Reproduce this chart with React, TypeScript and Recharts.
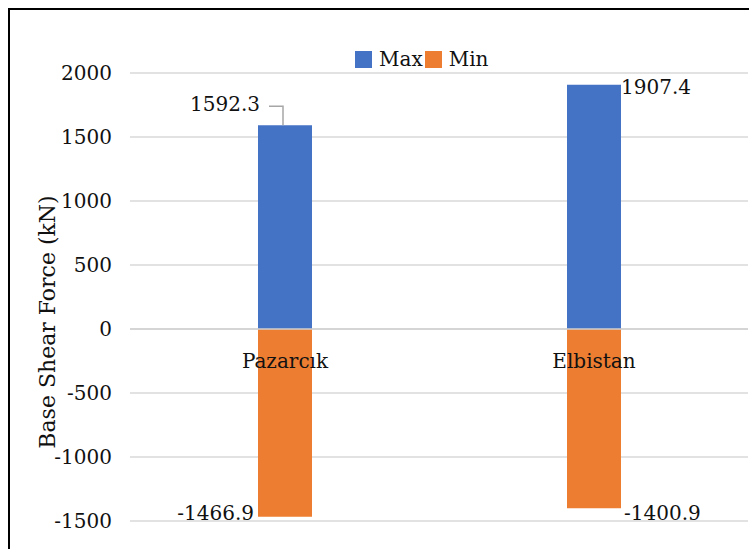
import { Bar, BarChart, CartesianGrid, LabelList, ReferenceLine, XAxis, YAxis } from 'recharts';

const sites = ['Pazarcık', 'Elbistan'];
const maxShear = [1592.3, 1907.4];
const minShear = [-1466.9, -1400.9];
const yTicks = [-1500, -1000, -500, 0, 500, 1000, 1500, 2000];

const seriesNames = ['Max', 'Min'];
const seriesColors = ['#4472C4', '#ED7D31'];

const FONT = '"DejaVu Serif", serif';
const TEXT = '#111';

const data = sites.map((name, i) => ({ name, max: maxShear[i], min: minShear[i] }));

function MaxLabel(props) {
    const { x, y, width, height, value, index } = props;
    const top = Math.min(y, y + height);
    if (index === 0) {
        return (
            <g>
                <polyline
                    points={`${x + 11},${top - 19} ${x + 25},${top - 19} ${x + 25},${top}`}
                    fill="none"
                    stroke="#a6a6a6"
                    strokeWidth={1.5}
                />
                <text x={x + 2} y={top - 21} textAnchor="end" dominantBaseline="central" fontSize={20} fontFamily={FONT} fill={TEXT}>
                    {value}
                </text>
            </g>
        );
    }
    return (
        <text x={x + width} y={top + 2} textAnchor="start" dominantBaseline="central" fontSize={20} fontFamily={FONT} fill={TEXT}>
            {value}
        </text>
    );
}

function MinLabel(props) {
    const { x, y, width, height, value, index } = props;
    const bottom = Math.max(y, y + height);
    if (index === 0) {
        return (
            <text x={x - 4} y={bottom - 4} textAnchor="end" dominantBaseline="central" fontSize={20} fontFamily={FONT} fill={TEXT}>
                {value}
            </text>
        );
    }
    return (
        <text x={x + width + 3} y={bottom + 5} textAnchor="start" dominantBaseline="central" fontSize={20} fontFamily={FONT} fill={TEXT}>
            {value}
        </text>
    );
}

function SiteLabel(props) {
    const { x, y, width, height, value } = props;
    const zero = Math.min(y, y + height);
    return (
        <text x={x + width / 2} y={zero + 32} textAnchor="middle" dominantBaseline="central" fontSize={20} fontFamily={FONT} fill={TEXT}>
            {value}
        </text>
    );
}

// axis title, placed in chart coords (page x 47, y 322)
function AxisTitle() {
    const cx = 37;
    const cy = 312;
    return (
        <text x={cx} y={cy} transform={`rotate(-90, ${cx}, ${cy})`} textAnchor="middle" dominantBaseline="central" fontSize={22} fontFamily={FONT} fill={TEXT}>
            Base Shear Force (kN)
        </text>
    );
}

export default function App() {
    return (
        <div style={{ position: 'fixed', left: 0, top: 0, width: 749, height: 549, overflow: 'hidden', background: '#fff' }}>
            <div style={{ position: 'absolute', left: 8, top: 8, width: 760, height: 560, border: '2px solid #000' }}>
                <div style={{ position: 'absolute', left: 345, top: 39, display: 'flex', alignItems: 'center', fontFamily: FONT, fontSize: 20, color: TEXT, lineHeight: '20px' }}>
                    {seriesNames.map((n, i) => (
                        <div key={n} style={{ display: 'flex', alignItems: 'center', marginRight: 2 }}>
                            <span style={{ display: 'inline-block', width: 17, height: 17, background: seriesColors[i], marginRight: 7 }} />
                            <span>{n}</span>
                        </div>
                    ))}
                </div>
                <BarChart
                    width={745}
                    height={530}
                    data={data}
                    stackOffset="sign"
                    margin={{ top: 63, right: 7, bottom: 19, left: 0 }}
                >
                    <CartesianGrid vertical={false} stroke="#d9d9d9" strokeWidth={1.5} />
                    <XAxis dataKey="name" hide />
                    <YAxis
                        width={120}
                        domain={[-1500, 2000]}
                        ticks={yTicks}
                        interval={0}
                        axisLine={false}
                        tickLine={false}
                        tickSize={0}
                        tickMargin={18}
                        tick={{ fontSize: 20, fontFamily: FONT, fill: TEXT }}
                    />
                    <ReferenceLine y={0} stroke="#d0d0d0" strokeWidth={1.5} />
                    <Bar dataKey="max" name={seriesNames[0]} stackId="s" fill={seriesColors[0]} barSize={54} isAnimationActive={false}>
                        <LabelList dataKey="max" content={<MaxLabel />} />
                    </Bar>
                    <Bar dataKey="min" name={seriesNames[1]} stackId="s" fill={seriesColors[1]} barSize={54} isAnimationActive={false}>
                        <LabelList dataKey="min" content={<MinLabel />} />
                        <LabelList dataKey="name" content={<SiteLabel />} />
                    </Bar>
                    <AxisTitle />
                </BarChart>
            </div>
        </div>
    );
}
